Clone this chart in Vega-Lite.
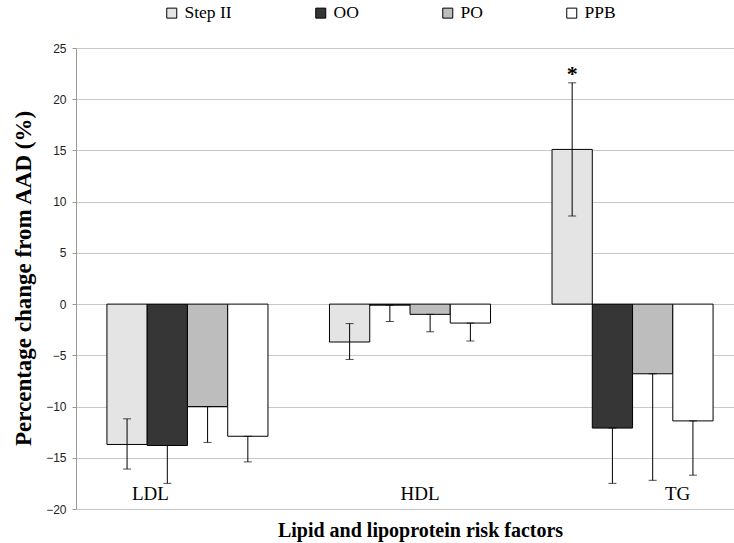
{
  "$schema": "https://vega.github.io/schema/vega-lite/v6.json",
  "autosize": "none",
  "padding": {"left": 76, "top": 48, "right": 0, "bottom": 34},
  "width": 668,
  "height": 461,
  "background": "white",
  "data": {
    "values": [
      {"factor": "LDL", "diet": "Step II", "value": -13.7, "lo": -16.1, "hi": -11.2, "sig": ""},
      {"factor": "LDL", "diet": "OO", "value": -13.8, "lo": -17.5, "hi": -13.8, "sig": ""},
      {"factor": "LDL", "diet": "PO", "value": -10.0, "lo": -13.5, "hi": -10.0, "sig": ""},
      {"factor": "LDL", "diet": "PPB", "value": -12.9, "lo": -15.4, "hi": -12.9, "sig": ""},
      {"factor": "HDL", "diet": "Step II", "value": -3.7, "lo": -5.4, "hi": -1.9, "sig": ""},
      {"factor": "HDL", "diet": "OO", "value": -0.1, "lo": -1.7, "hi": -0.1, "sig": ""},
      {"factor": "HDL", "diet": "PO", "value": -1.0, "lo": -2.7, "hi": -1.0, "sig": ""},
      {"factor": "HDL", "diet": "PPB", "value": -1.85, "lo": -3.6, "hi": -1.85, "sig": ""},
      {"factor": "TG", "diet": "Step II", "value": 15.1, "lo": 8.6, "hi": 21.6, "sig": "*"},
      {"factor": "TG", "diet": "OO", "value": -12.1, "lo": -17.5, "hi": -12.1, "sig": ""},
      {"factor": "TG", "diet": "PO", "value": -6.8, "lo": -17.2, "hi": -6.8, "sig": ""},
      {"factor": "TG", "diet": "PPB", "value": -11.4, "lo": -16.7, "hi": -11.4, "sig": ""}
    ]
  },
  "encoding": {
    "x": {
      "field": "factor",
      "type": "nominal",
      "sort": ["LDL", "HDL", "TG"],
      "scale": {"paddingInner": 0.2764, "paddingOuter": 0.139},
      "axis": {
        "title": "Lipid and lipoprotein risk factors",
        "titleFont": "Liberation Serif",
        "titleFontSize": 20,
        "titleFontWeight": "bold",
        "titleColor": "black",
        "titleX": 344,
        "titleY": 21,
        "titleBaseline": "middle",
        "titleAlign": "center",
        "domain": false,
        "ticks": false,
        "grid": false,
        "labelAngle": 0,
        "labelFont": "Liberation Serif",
        "labelFontSize": 19,
        "labelColor": "black",
        "labelBaseline": "middle",
        "labelPadding": -16,
        "labelOffset": {
          "condition": [
            {"test": "datum.value === 'LDL'", "value": -37},
            {"test": "datum.value === 'HDL'", "value": 10}
          ],
          "value": 45
        }
      }
    },
    "xOffset": {
      "field": "diet",
      "type": "nominal",
      "sort": ["Step II", "OO", "PO", "PPB"],
      "scale": {"paddingInner": 0, "paddingOuter": 0}
    }
  },
  "layer": [
    {
      "mark": {"type": "bar", "stroke": "black", "strokeWidth": 1},
      "encoding": {
        "y": {
          "field": "value",
          "type": "quantitative",
          "scale": {"domain": [-20, 25], "nice": false, "zero": false},
          "axis": {
            "values": [-20, -15, -10, -5, 0, 5, 10, 15, 20, 25],
            "title": "Percentage change from AAD (%)",
            "titleFont": "Liberation Serif",
            "titleFontSize": 23,
            "titleFontWeight": "bold",
            "titleColor": "black",
            "titleX": -53,
            "titleY": 230,
            "titleAngle": -90,
            "titleAlign": "center",
            "titleBaseline": "middle",
            "labelFont": "Liberation Sans",
            "labelFontSize": 12,
            "labelColor": "#222222",
            "labelPadding": 6,
            "tickSize": 4,
            "tickColor": "#999999",
            "domainColor": "#999999",
            "gridColor": "#c8c8c8",
            "grid": true
          }
        },
        "y2": {"datum": 0},
        "fill": {
          "field": "diet",
          "type": "nominal",
          "sort": ["Step II", "OO", "PO", "PPB"],
          "scale": {
            "domain": ["Step II", "OO", "PO", "PPB"],
            "range": ["#e4e4e4", "#363636", "#bdbdbd", "#ffffff"]
          },
          "legend": {
            "title": null,
            "orient": "none",
            "direction": "horizontal",
            "columns": 4,
            "legendX": 87,
            "legendY": -44,
            "padding": 0,
            "columnPadding": 80,
            "symbolType": "square",
            "symbolSize": 100,
            "symbolStrokeColor": "black",
            "symbolStrokeWidth": 1,
            "symbolOffset": 0,
            "labelOffset": 4,
            "labelFont": "Liberation Serif",
            "labelFontSize": 17.5,
            "labelColor": "black"
          }
        }
      }
    },
    {
      "mark": {"type": "rule", "color": "black", "strokeWidth": 1},
      "encoding": {
        "y": {"field": "lo", "type": "quantitative"},
        "y2": {"field": "hi"}
      }
    },
    {
      "mark": {"type": "tick", "color": "black", "thickness": 1, "size": 8, "orient": "horizontal"},
      "encoding": {
        "y": {"field": "lo", "type": "quantitative"}
      }
    },
    {
      "mark": {"type": "tick", "color": "black", "thickness": 1, "size": 8, "orient": "horizontal"},
      "encoding": {
        "y": {"field": "hi", "type": "quantitative"}
      }
    },
    {
      "transform": [{"filter": "datum.sig !== ''"}],
      "mark": {"type": "text", "font": "Liberation Serif", "fontSize": 22, "fontWeight": "bold", "baseline": "alphabetic", "dy": -2, "color": "black"},
      "encoding": {
        "y": {"field": "hi", "type": "quantitative"},
        "text": {"field": "sig"}
      }
    }
  ],
  "config": {
    "view": {"stroke": null}
  }
}
